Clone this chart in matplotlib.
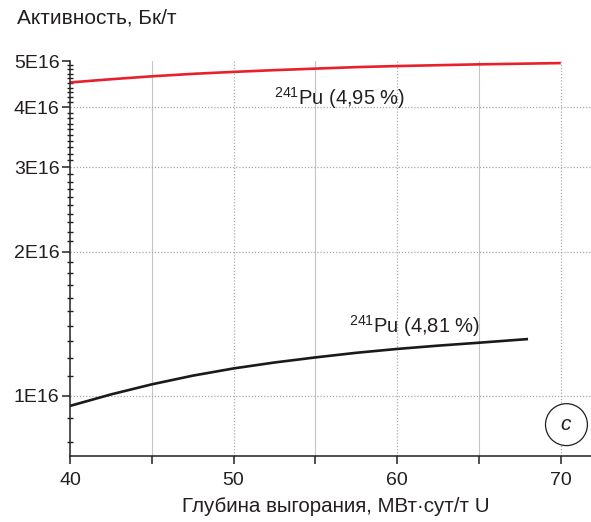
import numpy as np
import matplotlib
matplotlib.use("Agg")
import matplotlib.pyplot as plt
from matplotlib.ticker import FixedLocator, NullFormatter

FONT = ["Liberation Sans", "DejaVu Sans"]
plt.rcParams["font.family"] = FONT
plt.rcParams["mathtext.fontset"] = "custom"
plt.rcParams["mathtext.rm"] = "Liberation Sans"
plt.rcParams["mathtext.it"] = "Liberation Sans:italic"

# Burnup, MW·day/t U
burnup_hi = [40, 42.5, 45, 47.5, 50, 52.5, 55, 57.5, 60, 62.5, 65, 67.5, 70]
activity_hi = [4.51e16, 4.58e16, 4.645e16, 4.70e16, 4.745e16, 4.785e16, 4.82e16,
               4.855e16, 4.88e16, 4.90e16, 4.92e16, 4.935e16, 4.95e16]

burnup_lo = [40, 42.5, 45, 47.5, 50, 52.5, 55, 57.5, 60, 62.5, 65, 68]
activity_lo = [0.952e16, 1.006e16, 1.056e16, 1.101e16, 1.140e16, 1.173e16,
               1.202e16, 1.229e16, 1.252e16, 1.272e16, 1.290e16, 1.313e16]

y_major = [1e16, 2e16, 3e16, 4e16, 5e16]
y_labels = ["1E16", "2E16", "3E16", "4E16", "5E16"]
x_major = [40, 50, 60, 70]
x_minor = [45, 55, 65]

label_hi = r"$^{241}$Pu (4,95 %)"
label_lo = r"$^{241}$Pu (4,81 %)"

INK = "#231f20"

fig = plt.figure(figsize=(5.91, 5.22), dpi=100)
ax = fig.add_axes([70 / 591, 1 - 455.5 / 522, 1 - 70 / 591, (455.5 - 61) / 522])

ax.set_yscale("log")
ax.set_xlim(40, 71.85)
ax.set_ylim(7.5e15, 5e16)

# grid: solid light lines at minor x ticks, dotted at major x ticks and y ticks
dotted = (0, (1, 1.5))
for xv in x_minor:
    ax.axvline(xv, color="#c4c4c4", lw=0.8, zorder=0)
for xv in x_major[1:]:
    ax.axvline(xv, color="#ababab", lw=0.9, ls=dotted, zorder=0)
for yv in y_major[:-1]:
    ax.axhline(yv, color="#a8a8a8", lw=0.9, ls=dotted, zorder=0)

ax.plot(burnup_hi, activity_hi, color="#e8202a", lw=1.9, solid_capstyle="butt")
ax.plot(burnup_lo, activity_lo, color="#1a1a1a", lw=1.9, solid_capstyle="butt")

ax.text(52.45, 4.05e16, label_hi, fontsize=14.5, va="baseline", ha="left", color=INK)
ax.text(57.05, 1.35e16, label_lo, fontsize=14.5, va="baseline", ha="left", color=INK)

ax.text(70.35, 0.87e16, r"$c$", fontsize=15, ha="center", va="center", color=INK,
        bbox=dict(boxstyle="circle,pad=0.55", fc="white", ec=INK, lw=0.9))

for s in ["top", "right"]:
    ax.spines[s].set_visible(False)
for s in ["left", "bottom"]:
    ax.spines[s].set_linewidth(1.1)
    ax.spines[s].set_color(INK)

ax.yaxis.set_major_locator(FixedLocator(y_major))
ax.set_yticklabels(y_labels)
ax.yaxis.set_minor_locator(FixedLocator(np.arange(8e15, 5.0e16, 1e15)))
ax.yaxis.set_minor_formatter(NullFormatter())
ax.tick_params(axis="y", which="major", direction="out", length=6, width=1.1,
               labelsize=14, pad=1.5, colors=INK)
ax.tick_params(axis="y", which="minor", direction="inout", length=5, width=1.0,
               colors=INK)

ax.set_xticks(x_major)
ax.set_xticks(x_minor, minor=True)
ax.tick_params(axis="x", which="major", direction="out", length=6, width=1.1,
               labelsize=14, pad=6, colors=INK)
ax.tick_params(axis="x", which="minor", direction="out", length=6, width=1.1,
               colors=INK)

fig.text(17 / 591, 1 - 18 / 522, "Активность, Бк/т", fontsize=15, ha="left",
         va="center", color=INK)
fig.text(336 / 591, 1 - 507 / 522, "Глубина выгорания, МВт·сут/т U", fontsize=14.8,
         ha="center", va="center", color=INK)

fig.savefig("out.png", dpi=100, facecolor="white")
